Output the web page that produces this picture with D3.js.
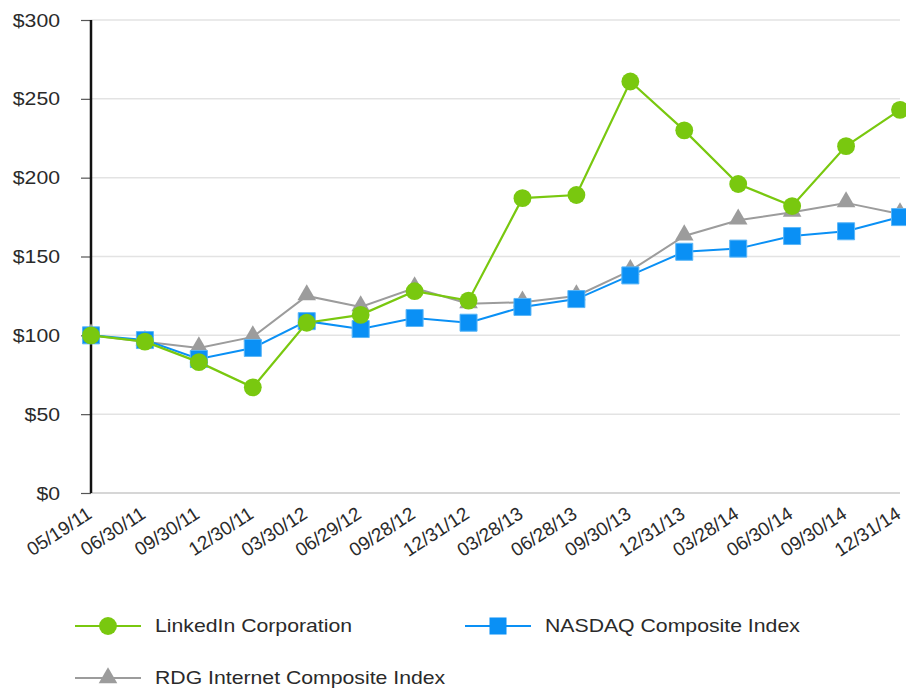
<!DOCTYPE html>
<html>
<head>
<meta charset="utf-8">
<script src="https://cdn.jsdelivr.net/npm/d3@7"></script>
<style>
  body { margin: 0; background: #fff; }
  text { font-family: "Liberation Sans", Arial, sans-serif; fill: #2a2a2a; }
</style>
</head>
<body>
<svg id="chart" width="906" height="693"></svg>
<script>
// DATA
var dates = ["05/19/11","06/30/11","09/30/11","12/30/11","03/30/12","06/29/12","09/28/12","12/31/12",
             "03/28/13","06/28/13","09/30/13","12/31/13","03/28/14","06/30/14","09/30/14","12/31/14"];
var linkedin = [100, 96, 83, 67, 108, 113, 128, 122, 187, 189, 261, 230, 196, 182, 220, 243];
var nasdaq   = [100, 97, 85, 92, 109, 104, 111, 108, 118, 123, 138, 153, 155, 163, 166, 175];
var rdg      = [100, 96, 92, 99, 125, 118, 130, 120, 121, 125, 141, 163, 173, 178, 184, 177];
var yTicks   = [0, 50, 100, 150, 200, 250, 300];

var svg = d3.select("#chart");
var plotLeft = 91, plotRight = 900, plotTop = 20, plotBottom = 493;
var stretch = 1.18; // the source text is a little wider than Arial

var x = d3.scalePoint().domain(dates).range([plotLeft, plotRight]);
var y = d3.scaleLinear().domain([0, 300]).range([plotBottom, plotTop]);

// GRID
svg.append("g").selectAll("line").data(yTicks.filter(function(d){ return d > 0; }))
  .enter().append("line")
  .attr("x1", plotLeft).attr("x2", plotRight)
  .attr("y1", function(d){ return y(d); }).attr("y2", function(d){ return y(d); })
  .attr("stroke", "#e3e3e3").attr("stroke-width", 1.5);

// X BASELINE
svg.append("line").attr("x1", plotLeft).attr("x2", plotRight)
  .attr("y1", y(0)).attr("y2", y(0))
  .attr("stroke", "#c8c8c8").attr("stroke-width", 1.5);

// Y AXIS
var yAxis = d3.axisLeft(y).tickValues(yTicks).tickSize(10).tickPadding(0)
  .tickFormat(function(d){ return "$" + d; });
var yg = svg.append("g").attr("transform", "translate(" + plotLeft + ",0)").call(yAxis);
yg.select(".domain").remove();
yg.selectAll(".tick line").attr("stroke", "#555").attr("stroke-width", 1.2);
yg.selectAll(".tick text")
  .attr("x", null).attr("dy", null)
  .attr("transform", "translate(-31,6) scale(" + stretch + ",1)")
  .attr("font-size", 18).attr("fill", "#2a2a2a")
  .style("font-family", "'Liberation Sans', Arial, sans-serif");
svg.append("line").attr("x1", plotLeft).attr("x2", plotLeft).attr("y1", plotTop).attr("y2", plotBottom)
  .attr("stroke", "#111").attr("stroke-width", 2.5);

// X LABELS
svg.append("g").selectAll("text").data(dates).enter().append("text")
  .attr("transform", function(d){
    return "translate(" + (x(d) + 2) + "," + (plotBottom + 24) + ") rotate(-33)";
  })
  .attr("text-anchor", "end")
  .attr("font-size", 19)
  .text(function(d){ return d; });

// SERIES
var line = d3.line().x(function(d, i){ return x(dates[i]); }).y(function(d){ return y(d); });
var green = "#79c80f", blue = "#0a90f5", gray = "#9c9c9c";

function drawLine(data, color, w){
  svg.append("path").datum(data).attr("d", line)
    .attr("fill", "none").attr("stroke", color).attr("stroke-width", w);
}

var triangle = d3.symbol().type(d3.symbolTriangle).size(150);
var square = d3.symbol().type(d3.symbolSquare).size(290);
var circle = d3.symbol().type(d3.symbolCircle).size(250);

drawLine(rdg, gray, 2);
svg.append("g").selectAll("path").data(rdg).enter().append("path")
  .attr("d", triangle)
  .attr("transform", function(d, i){ return "translate(" + x(dates[i]) + "," + (y(d) - 1) + ")"; })
  .attr("fill", gray);

drawLine(nasdaq, blue, 2);
svg.append("g").selectAll("path").data(nasdaq).enter().append("path")
  .attr("d", square)
  .attr("transform", function(d, i){ return "translate(" + x(dates[i]) + "," + y(d) + ")"; })
  .attr("fill", blue).attr("stroke", "#5bb6f7").attr("stroke-width", 1);

drawLine(linkedin, green, 2.2);
svg.append("g").selectAll("path").data(linkedin).enter().append("path")
  .attr("d", circle)
  .attr("transform", function(d, i){ return "translate(" + x(dates[i]) + "," + y(d) + ")"; })
  .attr("fill", green);

// LEGEND
var legend = [
  {name: "LinkedIn Corporation", color: green, sym: circle, lx: 75, ly: 626},
  {name: "NASDAQ Composite Index", color: blue, sym: square, lx: 465, ly: 626},
  {name: "RDG Internet Composite Index", color: gray, sym: triangle, lx: 75, ly: 678}
];
var lg = svg.append("g").selectAll("g").data(legend).enter().append("g")
  .attr("transform", function(d){ return "translate(" + d.lx + "," + d.ly + ")"; });
lg.append("line").attr("x1", 0).attr("x2", 66).attr("y1", 0).attr("y2", 0)
  .attr("stroke", function(d){ return d.color; }).attr("stroke-width", 2.2);
lg.append("path").attr("d", function(d){ return d.sym(); })
  .attr("transform", "translate(33,0)")
  .attr("fill", function(d){ return d.color; });
lg.append("text")
  .attr("transform", "translate(80,6) scale(" + stretch + ",1)")
  .attr("font-size", 18)
  .text(function(d){ return d.name; });
</script>
</body>
</html>
